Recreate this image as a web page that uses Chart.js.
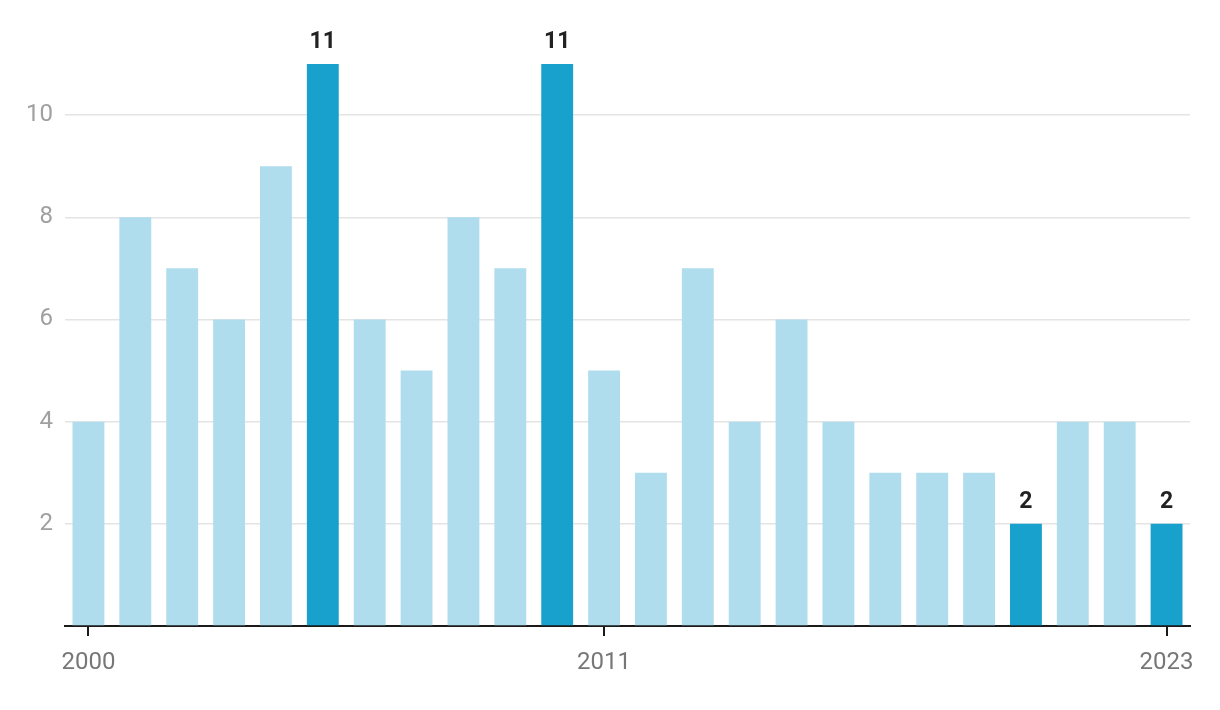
<!DOCTYPE html>
<html>
<head>
<meta charset="utf-8">
<script src="https://cdn.jsdelivr.net/npm/chart.js@4"></script>
<style>
  html, body { margin: 0; padding: 0; background: #fff; }
  #wrap { width: 1220px; height: 710px; position: relative; }
</style>
</head>
<body>
<div id="wrap"><canvas id="chart"></canvas></div>
<script>
// data
const years = [];
for (let y = 2000; y <= 2023; y++) years.push(String(y));
const counts = [4, 8, 7, 6, 9, 11, 6, 5, 8, 7, 11, 5, 3, 7, 4, 6, 4, 3, 3, 3, 2, 4, 4, 2];
const highlightYears = ['2005', '2010', '2020', '2023'];
const shownYears = ['2000', '2011', '2023'];
const yTicks = [2, 4, 6, 8, 10];

const LIGHT = '#afdded';
const DARK = '#18a1cd';

// draws value labels above highlighted bars
const valueLabels = {
    id: 'valueLabels',
    afterDatasetsDraw(chart) {
        const ctx = chart.ctx;
        const meta = chart.getDatasetMeta(0);
        ctx.save();
        ctx.font = 'bold 23px Roboto';
        ctx.fillStyle = '#222';
        ctx.textAlign = 'center';
        ctx.textBaseline = 'bottom';
        meta.data.forEach((bar, i) => {
            if (!highlightYears.includes(years[i])) return;
            ctx.fillText(String(counts[i]), bar.x, bar.y - 10);
        });
        ctx.restore();
    }
};

new Chart(document.getElementById('chart'), {
    type: 'bar',
    data: {
        labels: years,
        datasets: [{
            data: counts,
            backgroundColor: years.map(y => highlightYears.includes(y) ? DARK : LIGHT),
            barPercentage: 0.68,
            categoryPercentage: 1.0
        }]
    },
    options: {
        responsive: true,
        maintainAspectRatio: false,
        animation: false,
        layout: { padding: { top: 64, right: 30, left: 0, bottom: 0 } },
        plugins: {
            legend: { display: false },
            tooltip: { enabled: false }
        },
        scales: {
            x: {
                offset: true,
                grid: {
                    offset: false,
                    drawOnChartArea: false,
                    drawTicks: true,
                    tickLength: 10,
                    lineWidth: 2,
                    color: ctx => shownYears.includes(years[ctx.index]) ? '#1a1a1a' : 'rgba(0,0,0,0)'
                },
                border: { display: true, color: '#1a1a1a', width: 2 },
                ticks: {
                    autoSkip: false,
                    maxRotation: 0,
                    padding: 13,
                    color: '#777',
                    font: { family: 'Roboto', size: 24 },
                    callback: (v, i) => shownYears.includes(years[i]) ? years[i] : ''
                },
                afterFit: s => { s.height = 84; }
            },
            y: {
                min: 0,
                max: 11,
                afterBuildTicks: s => { s.ticks = [0, ...yTicks].map(v => ({ value: v })); },
                grid: { color: '#e4e4e4', lineWidth: 1.5, drawTicks: false },
                border: { display: false },
                ticks: {
                    padding: 12,
                    color: '#a0a0a0',
                    font: { family: 'Roboto', size: 24 },
                    callback: v => v === 0 ? '' : v
                },
                afterFit: s => { s.width = 65; }
            }
        }
    },
    plugins: [valueLabels]
});
</script>
</body>
</html>
